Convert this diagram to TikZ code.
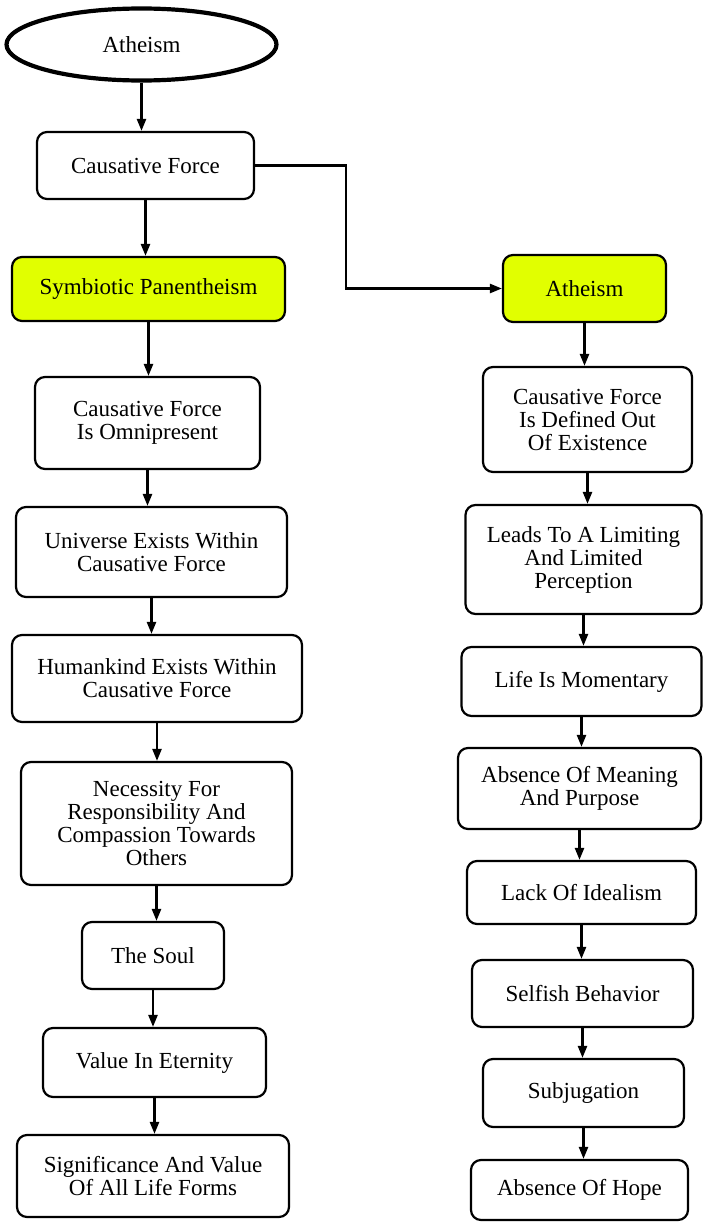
\documentclass[tikz,border=0pt]{standalone}
\usepackage{fontspec}
\setmainfont{Liberation Serif}
\usepackage{tikz}
\usetikzlibrary{shapes, arrows.meta, positioning}
\definecolor{hilite}{RGB}{225,255,0}

\begin{document}
\begin{tikzpicture}[x=1pt, y=-1pt,
        box/.style={rectangle, rounded corners=10pt, draw=black, line width=2.2pt, fill=white, inner sep=0pt, align=center, font=\fontsize{23}{23}\selectfont},
        mark box/.style={box, fill=hilite},
        start/.style={ellipse, draw=black, line width=4.2pt, fill=white, inner sep=0pt, align=center, font=\fontsize{23}{23}\selectfont},
        arr/.style={line width=2.4pt, -{Triangle[length=12pt, width=9pt]}}
    ]
        \useasboundingbox (0,0) rectangle (703,1223);

        % Start
        \node[start, minimum width=270pt, minimum height=72pt] (top) at (141.5, 44.5) {Atheism};
        \node[box, minimum width=217pt, minimum height=67pt] (cf) at (145.5, 165.5) {Causative Force};

        % Left column
        \node[mark box, minimum width=273pt, minimum height=64pt] (sym) at (148.5, 289) {Symbiotic Panentheism};
        \node[box, minimum width=225pt, minimum height=92pt] (omni) at (147.5, 423) {Causative Force\\Is Omnipresent};
        \node[box, minimum width=271pt, minimum height=90pt] (univ) at (151.5, 552) {Universe Exists Within\\Causative Force};
        \node[box, minimum width=290pt, minimum height=87pt] (human) at (157, 678.5) {Humankind Exists Within\\Causative Force};
        \node[box, minimum width=271pt, minimum height=123pt] (need) at (156.5, 823.5) {Necessity For\\Responsibility And\\Compassion Towards\\Others};
        \node[box, minimum width=142pt, minimum height=67pt] (soul) at (153, 955.5) {The Soul};
        \node[box, minimum width=223pt, minimum height=69pt] (value) at (154.5, 1062.5) {Value In Eternity};
        \node[box, minimum width=272pt, minimum height=82pt] (signif) at (153, 1176) {Significance And Value\\Of All Life Forms};

        % Right column
        \node[mark box, minimum width=163pt, minimum height=67pt] (ath) at (584.5, 288.5) {Atheism};
        \node[box, minimum width=209pt, minimum height=105pt] (defined) at (587.5, 419.5) {Causative Force\\Is Defined Out\\Of Existence};
        \node[box, minimum width=236pt, minimum height=109pt] (leads) at (583.5, 559.5) {Leads To A Limiting\\And Limited\\Perception};
        \node[box, minimum width=240pt, minimum height=69pt] (life) at (581.5, 681.5) {Life Is Momentary};
        \node[box, minimum width=243pt, minimum height=81pt] (meaning) at (579.5, 788.5) {Absence Of Meaning\\And Purpose};
        \node[box, minimum width=229pt, minimum height=63pt] (lack) at (581.5, 892.5) {Lack Of Idealism};
        \node[box, minimum width=221pt, minimum height=67pt] (selfish) at (582.5, 993.5) {Selfish Behavior};
        \node[box, minimum width=201pt, minimum height=68pt] (subj) at (583.5, 1093) {Subjugation};
        \node[box, minimum width=217pt, minimum height=60pt] (hope) at (579.5, 1190) {Absence Of Hope};

        % Arrows
        \draw[arr] (top.south) -- (top.south |- cf.north);
        \draw[arr] (cf.south) -- (cf.south |- sym.north);
        \draw[arr] (cf.east) -- ++(91,0) |- (ath.west);
        \foreach \a/\b in {sym/omni, omni/univ, univ/human, human/need, need/soul, soul/value, value/signif,
                           ath/defined, defined/leads, leads/life, life/meaning, meaning/lack, lack/selfish, selfish/subj, subj/hope}
            \draw[arr] (\a.south) -- (\a.south |- \b.north);
    \end{tikzpicture}
\end{document}
